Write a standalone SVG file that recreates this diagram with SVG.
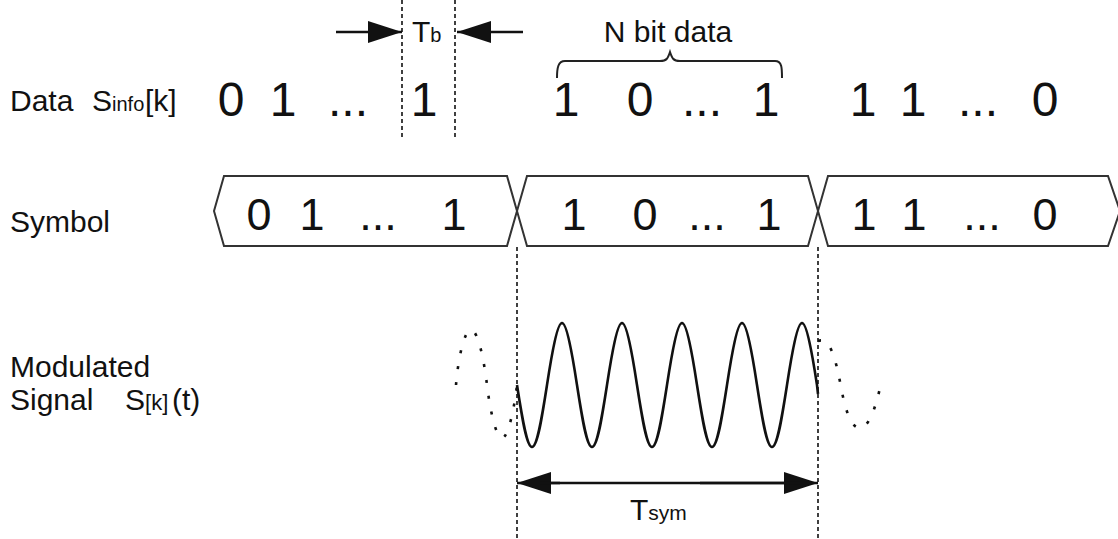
<svg xmlns="http://www.w3.org/2000/svg" width="1118" height="539" viewBox="0 0 1118 539">
<defs>
<style>
.lbl{font-family:"Liberation Sans",Arial,sans-serif;font-size:30px;fill:#111}
.dig{font-family:"Liberation Sans",Arial,sans-serif;font-size:48px;fill:#111;text-anchor:middle}
.sym{font-family:"Liberation Sans",Arial,sans-serif;font-size:45px;fill:#111;text-anchor:middle}
.dash{stroke:#111;stroke-width:1.6;stroke-dasharray:4 3;fill:none}
.box{fill:#fff;stroke:#333;stroke-width:2}
.wave{fill:none;stroke:#111;stroke-width:2.6}
.dot{fill:none;stroke:#111;stroke-width:2.6;stroke-dasharray:3 13}
.arr{stroke:#111;stroke-width:2.5;fill:none}
</style>
<marker id="ah" viewBox="0 0 34 22" refX="34" refY="11" markerWidth="34" markerHeight="22" markerUnits="userSpaceOnUse" orient="auto">
<path d="M0,0 L34,11 L0,22 Z" fill="#111"/>
</marker>
</defs>
<rect width="1118" height="539" fill="#fff"/>

<g id="labels">
<text class="lbl" x="10" y="111">Data<tspan x="92">S</tspan><tspan font-size="20">info</tspan><tspan x="145">[k]</tspan></text>
<text class="lbl" x="10" y="232" font-size="32">Symbol</text>
<text class="lbl" x="10" y="377" font-size="31">Modulated</text>
<text class="lbl" x="10" y="410" font-size="31">Signal<tspan x="125">S</tspan><tspan font-size="22">[k]</tspan><tspan x="172">(t)</tspan></text>
</g>

<g id="data-bits">
<text class="dig" x="231" y="116">0</text>
<text class="dig" x="283" y="116">1</text>
<text class="dig" x="348" y="116">...</text>
<text class="dig" x="424" y="116">1</text>
<text class="dig" x="566" y="116">1</text>
<text class="dig" x="640" y="116">0</text>
<text class="dig" x="702" y="116">...</text>
<text class="dig" x="766" y="116">1</text>
<text class="dig" x="863" y="116">1</text>
<text class="dig" x="913" y="116">1</text>
<text class="dig" x="978" y="116">...</text>
<text class="dig" x="1045" y="116">0</text>
</g>

<g id="tb-marker">
<text class="lbl" x="412" y="42">T<tspan font-size="20">b</tspan></text>
</g>

<g id="n-bit-brace">
<path d="M557,78 C557,68 558,61 565,61 L660,61 C667,61 668,58 670,52 C672,58 673,61 680,61 L775,61 C782,61 782,68 782,78" fill="none" stroke="#222" stroke-width="2"/>
<text class="lbl" x="668" y="42" text-anchor="middle">N bit data</text>
</g>

<g id="symbol1">
<polygon class="box" points="214,211 224,176 507,176 517,211 507,246 224,246"/>
<text class="sym" x="259" y="230">0</text>
<text class="sym" x="312" y="230">1</text>
<text class="sym" x="378" y="230">...</text>
<text class="sym" x="454" y="230">1</text>
</g>
<g id="symbol2">
<polygon class="box" points="517,211 527,176 808,176 818,211 808,246 527,246"/>
<text class="sym" x="574" y="230">1</text>
<text class="sym" x="645" y="230">0</text>
<text class="sym" x="707" y="230">...</text>
<text class="sym" x="769" y="230">1</text>
</g>
<g id="symbol3">
<polygon class="box" points="818,211 828,176 1108,176 1120,211 1108,246 828,246"/>
<text class="sym" x="864" y="230">1</text>
<text class="sym" x="914" y="230">1</text>
<text class="sym" x="982" y="230">...</text>
<text class="sym" x="1045" y="230">0</text>
</g>

<g id="signal">
<path class="wave" d="M517,385 C521.89,416.76 526.57,447 532,447 S542.11,416.76 547,385 S557.43,323 562,323 S572.11,353.24 577,385 S586.57,447 592,447 S602.11,416.76 607,385 S617.43,323 622,323 S632.11,353.24 637,385 S646.57,447 652,447 S662.11,416.76 667,385 S677.43,323 682,323 S692.11,353.24 697,385 S706.57,447 712,447 S722.11,416.76 727,385 S737.43,323 742,323 S752.11,353.24 757,385 S766.57,447 772,447 S782.11,416.76 787,385 S797.43,323 802,323 S812.11,353.24 817,385 L818,394"/>
<path class="dot" d="M456,385 C458,360 464,330 471,330 S484,360 487,385 S496,438 502,438 S514,410 517,385"/>
<path class="dot" d="M818,341 C830,336 836,360 841,387 S852,428 860,428 S875,410 880,388"/>
</g>

<g id="connectors">
<line class="dash" x1="402" y1="0" x2="402" y2="138"/>
<line class="dash" x1="455" y1="0" x2="455" y2="138"/>
<line class="dash" x1="517" y1="247" x2="517" y2="539"/>
<line class="dash" x1="818" y1="247" x2="818" y2="539"/>
<line class="arr" x1="336" y1="32" x2="402" y2="32" marker-end="url(#ah)"/>
<line class="arr" x1="523" y1="32" x2="457" y2="32" marker-end="url(#ah)"/>
<line class="arr" x1="560" y1="483" x2="517" y2="483" marker-end="url(#ah)"/>
<line class="arr" x1="700" y1="483" x2="818" y2="483" marker-end="url(#ah)"/>
<line class="arr" x1="540" y1="483" x2="800" y2="483"/>
</g>

<g id="tsym-label">
<text class="lbl" x="630" y="520">T<tspan font-size="21">sym</tspan></text>
</g>
</svg>
